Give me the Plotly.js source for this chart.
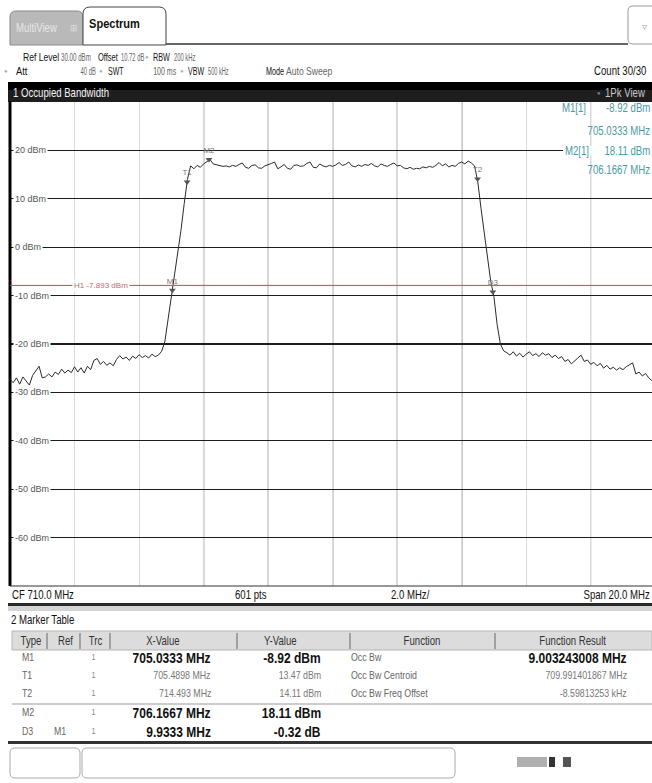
<!DOCTYPE html>
<html><head><meta charset="utf-8">
<script src="https://cdn.plot.ly/plotly-3.0.1.min.js"></script>
<style>html,body{margin:0;padding:0;background:#fff;overflow:hidden}#chart{width:652px;height:783px}</style>
</head><body><div id="chart"></div>
<script>
// ---------- data ----------
const startFreq = 700, stopFreq = 720;           // MHz (CF 710, span 20)
const levels = [                                   // dBm, one value every 0.1 MHz
 -27.3,-28.0,-27.0,-28.3,-26.8,-27.6,-28.5,-26.5,-25.5,-24.6,
 -27.0,-26.8,-26.2,-26.8,-25.8,-26.3,-25.2,-26.0,-25.4,-25.9,
 -24.7,-25.8,-24.9,-26.0,-24.6,-25.3,-23.4,-23.0,-24.2,-23.6,
 -24.4,-23.9,-24.5,-23.2,-22.4,-23.1,-22.7,-23.4,-22.5,-23.0,
 -22.2,-22.8,-22.4,-22.9,-22.1,-22.6,-22.3,
 -21.5,-19.5,-15.0,-10.5,-6.0,-1.5,3.5,9.0,14.0,16.8,
 16.2,16.9,16.5,
 17.2,17.6,18.1,17.2,17.0,16.9,16.7,16.8,16.6,16.9,
 16.7,17.1,17.4,16.5,16.3,16.9,17.0,16.4,16.3,16.8,
 17.0,17.3,17.6,16.2,16.6,17.1,16.3,16.1,16.9,17.0,
 16.7,16.8,17.3,17.6,16.5,16.4,17.2,16.8,16.6,16.9,
 16.7,17.0,17.5,16.9,17.1,17.6,16.8,16.6,17.0,16.7,
 17.1,16.9,17.3,16.8,16.6,17.2,16.9,16.7,17.1,17.4,
 16.8,16.9,16.4,16.2,16.5,16.1,16.3,16.2,16.6,16.4,
 16.7,16.5,16.9,17.5,16.8,17.2,16.6,16.9,16.7,17.3,
 17.6,17.2,17.8,17.4,16.8,
 13.5,8.0,3.0,-3.0,-7.0,-10.2,-16.0,-20.0,-21.4,
 -21.8,-22.3,-21.6,-22.5,-21.9,-22.7,
 -22.1,-21.6,-22.4,-22.0,-22.6,-21.8,-22.3,-22.0,-22.8,-22.3,
 -23.0,-22.6,-23.6,-23.2,-24.1,-23.4,-22.9,-22.3,-23.6,-23.3,
 -24.2,-23.8,-24.5,-24.0,-25.0,-24.4,-25.2,-24.8,-25.4,-24.9,
 -25.3,-24.7,-24.3,-23.9,-26.2,-25.8,-26.6,-26.1,-27.0,-27.6,
 -27.2
];
const yTicks = [20,10,0,-10,-20,-30,-40,-50,-60];
const markerNames = ['M1','T1','T2','M2','D3'];
const markerFreq  = [705.0333,705.4898,714.493,706.1667,714.9666];
const markerLevel = [-8.92,13.47,14.11,18.11,-9.24];
const displayLine = -7.893;

const tblType   = ['M1','T1','T2','M2','D3'];
const tblRef    = ['','','','','M1'];
const tblTrc    = ['1','1','1','1','1'];
const tblX      = ['705.0333 MHz','705.4898 MHz','714.493 MHz','706.1667 MHz','9.9333 MHz'];
const tblY      = ['-8.92 dBm','13.47 dBm','14.11 dBm','18.11 dBm','-0.32 dB'];
const tblBold   = [true,false,false,true,true];
const tblFunc   = ['Occ Bw','Occ Bw Centroid','Occ Bw Freq Offset','',''];
const tblResult = ['9.003243008 MHz','709.991401867 MHz','-8.59813253 kHz','',''];

// ---------- helpers ----------
const step = (stopFreq-startFreq)/(levels.length-1);
const freq = levels.map((_,i)=>+(startFreq+i*step).toFixed(3));
const F = "'Liberation Sans',Arial,sans-serif";
const L=10, T=102, W=642, H=484;
const px = x => (x-L)/W, py = y => (T+H-y)/H;
const ann = [], annSx = [], shp = [];
function txt(x,y,text,o={}){
  ann.push({xref:'paper',yref:'paper',x:px(x),y:py(y),text:text,showarrow:false,
    xanchor:o.a||'left',yanchor:'middle',borderpad:0,
    font:{family:F,size:o.s||11,color:o.c||'#222',weight:o.b?'bold':'normal'}});
  annSx.push(o.sx===undefined?0.8:o.sx);
}
function rect(x0,y0,x1,y1,fill,lc,lw){
  shp.push({type:'rect',xref:'paper',yref:'paper',x0:px(x0),x1:px(x1),y0:py(y0),y1:py(y1),
    fillcolor:fill||'rgba(0,0,0,0)',line:{color:lc||'rgba(0,0,0,0)',width:lc?(lw||1):0},layer:'above'});
}
function line(x0,y0,x1,y1,c,w){
  shp.push({type:'line',xref:'paper',yref:'paper',x0:px(x0),x1:px(x1),y0:py(y0),y1:py(y1),
    line:{color:c,width:w||1},layer:'above'});
}
const P=(x,y)=>px(x).toFixed(5)+','+py(y).toFixed(5);
function tab(x0,y0,x1,y1,r,fill,lc){
  shp.push({type:'path',xref:'paper',yref:'paper',layer:'above',
    path:`M${P(x0,y1)} L${P(x0,y0+r)} Q${P(x0,y0)} ${P(x0+r,y0)} L${P(x1-r,y0)} Q${P(x1,y0)} ${P(x1,y0+r)} L${P(x1,y1)} Z`,
    fillcolor:fill,line:{color:lc,width:1}});
}
function rbox(x0,y0,x1,y1,r,lc){
  shp.push({type:'path',xref:'paper',yref:'paper',layer:'above',
    path:`M${P(x0+r,y0)} L${P(x1-r,y0)} Q${P(x1,y0)} ${P(x1,y0+r)} L${P(x1,y1-r)} Q${P(x1,y1)} ${P(x1-r,y1)} L${P(x0+r,y1)} Q${P(x0,y1)} ${P(x0,y1-r)} L${P(x0,y0+r)} Q${P(x0,y0)} ${P(x0+r,y0)} Z`,
    fillcolor:'rgba(0,0,0,0)',line:{color:lc,width:1}});
}

// ---------- tabs / header ----------
tab(10,11,83,45,6,'#b9b9b9','#8a8a8a');
txt(15,28,'MultiView',{c:'#e6e6e6',s:12});
txt(74,28,'⊞',{c:'#dddddd',s:9,a:'center',sx:1});
line(166,44,628,44,'#333',1.5);
tab(83,7,166,45,7,'#ffffff','#444');
txt(88,24,'Spectrum',{c:'#111',s:13,b:true,sx:0.85});
rbox(628,6,660,44,5,'#999');
txt(644,26,'▿',{c:'#aaa',s:10,a:'center',sx:1});

// info lines
const G='#666', K='#111', dotC='#9fb3c4';
const lab={s:11,c:K,sx:0.72}, val={s:11,c:G,sx:0.56};
txt(22,57,'Ref Level',{...lab,sx:0.78}); txt(60,57,'30.00 dBm',val);
txt(97,57,'Offset',{...lab,sx:0.68}); txt(120,57,'10.72 dB',{...val,sx:0.53});
txt(147,57,'●',{s:6,c:dotC,a:'center',sx:1}); txt(152,57,'RBW',{...lab,sx:0.66}); txt(173,57,'200 kHz',{...val,sx:0.53});
txt(6,71,'●',{s:6,c:dotC,a:'center',sx:1}); txt(15,71,'Att',{...lab,sx:0.85}); txt(97,71,'40 dB',{...val,sx:0.53,a:'right'});
txt(101,71,'●',{s:6,c:dotC,a:'center',sx:1}); txt(107,71,'SWT',{...lab,sx:0.64}); txt(178,71,'100 ms',{...val,sx:0.64,a:'right'});
txt(182,71,'●',{s:6,c:dotC,a:'center',sx:1}); txt(187,71,'VBW',{...lab,sx:0.64}); txt(207,71,'500 kHz',{...val,sx:0.51});
txt(265,71,'Mode',{...lab,sx:0.66}); txt(285,71,'Auto Sweep',{...val,sx:0.78});
txt(648,71,'Count 30/30',{s:12,c:K,a:'right'});

// black title bar
rect(8,82,652,90,'#000000'); rect(8,90,652,102,'#1e1e1e');
txt(12,93,'1 Occupied Bandwidth',{s:12,c:'#f2f2f2'});
txt(599,93,'●',{s:6,c:'#5d86b0',a:'center',sx:1});
txt(646,93,'1Pk View',{s:12,c:'#c8c8c8',a:'right'});

// plot frame
line(10,101,10,586,'#000',3);
line(10,586,652,586,'#333',1);

// stronger vertical grid lines as they appear in the reference display
[706,710,714].forEach(f=>shp.push({type:'line',xref:'x',yref:'paper',x0:f,x1:f,y0:0,y1:1,line:{color:'#2e2e2e',width:1.2},layer:'between'}));
[708,712,718].forEach(f=>shp.push({type:'line',xref:'x',yref:'paper',x0:f,x1:f,y0:0,y1:1,line:{color:'#9a9a9a',width:1},layer:'between'}));

// y labels (gridline gaps)
yTicks.forEach(v=>{
  ann.push({xref:'paper',yref:'y',x:px(13),y:v,text:v+' dBm',showarrow:false,xanchor:'left',yanchor:'middle',
    bgcolor:'#ffffff',borderpad:1,font:{family:F,size:9,color:'#555'}});
  annSx.push(0);
});

// display line H1
shp.push({type:'line',xref:'paper',yref:'y',x0:0,x1:1,y0:displayLine,y1:displayLine,line:{color:'#c8455a',width:1},layer:'above'});
ann.push({xref:'paper',yref:'y',x:px(72),y:displayLine,text:'H1 '+displayLine.toFixed(3)+' dBm',showarrow:false,
  xanchor:'left',yanchor:'middle',bgcolor:'#ffffff',borderpad:1,font:{family:F,size:8,color:'#b86a74'}});
annSx.push(0);

// marker readout (top right)
rect(563,146,652,156,'#ffffff');
const teal='#4b9aa7';
txt(561,108,'M1[1]',{s:12,c:teal}); txt(651,108,markerLevel[0].toFixed(2)+' dBm',{s:12,c:teal,a:'right'});
txt(651,131,markerFreq[0].toFixed(4)+' MHz',{s:12,c:teal,a:'right'});
txt(564,151,'M2[1]',{s:12,c:teal}); txt(651,151,markerLevel[3].toFixed(2)+' dBm',{s:12,c:teal,a:'right'});
txt(651,170,markerFreq[3].toFixed(4)+' MHz',{s:12,c:teal,a:'right'});

// bottom axis info row
txt(11,595,'CF 710.0 MHz',{s:12,c:K});
txt(250,595,'601 pts',{s:12,c:K,a:'center'});
txt(410,595,'2.0 MHz/',{s:12,c:K,a:'center'});
txt(651,595,'Span 20.0 MHz',{s:12,c:K,a:'right'});
rect(8,603,652,606,'#2a2a2a'); rect(8,606,652,611,'#d4d4d4');

// marker table
txt(10,620,'2 Marker Table',{s:12,c:K});
rect(12,631,652,650,'#dcdcdc','#b5b5b5',1);
[47,80,110,237,350,495].forEach(x=>line(x,633,x,649,'#666',1));
const hc='#333';
txt(31,641,'Type',{s:12,c:hc,a:'center'}); txt(65,641,'Ref',{s:12,c:hc,a:'center'});
txt(96,641,'Trc',{s:12,c:hc,a:'center'}); txt(163,641,'X-Value',{s:12,c:hc,a:'center'});
txt(280,641,'Y-Value',{s:12,c:hc,a:'center'}); txt(422,641,'Function',{s:12,c:hc,a:'center'});
txt(573,641,'Function Result',{s:12,c:hc,a:'center'});
const rowY=[657,675,693,712,731];
tblType.forEach((t,i)=>{
  const y=rowY[i], b=tblBold[i];
  txt(21,y,t,{s:11,c:'#666'});
  if(tblRef[i]) txt(53,y,tblRef[i],{s:11,c:'#666'});
  txt(94,y,tblTrc[i],{s:9,c:'#888',a:'center'});
  txt(212,y,tblX[i],b?{s:15,c:K,a:'right',b:true}:{s:11,c:'#777',a:'right'});
  txt(322,y,tblY[i],b?{s:15,c:K,a:'right',b:true}:{s:11,c:'#777',a:'right'});
  if(tblFunc[i]) txt(350,y,tblFunc[i],{s:11,c:'#666'});
  if(tblResult[i]) txt(628,y,tblResult[i],i===0?{s:15,c:K,a:'right',b:true}:{s:11,c:'#777',a:'right'});
});
line(12,704,652,704,'#999',1);
rect(8,741,652,744,'#333');

// soft keys / status
rbox(10,748,80,778,5,'#aaa');
rbox(82,748,455,778,5,'#aaa');
rect(517,757,547,767,'#b0b0b0'); rect(549,757,555,767,'#333'); rect(563,757,571,767,'#555');

// ---------- traces ----------
const data = [
  {type:'scatter',mode:'lines',x:freq,y:levels,line:{color:'#2b2b2b',width:1},hoverinfo:'skip'},
  {type:'scatter',mode:'markers+text',x:markerFreq,y:markerLevel,text:markerNames,
   textposition:'top center',textfont:{family:F,size:8,color:'#777'},
   marker:{symbol:'triangle-down',size:6,color:'#555'},hoverinfo:'skip'}
];
const layout = {
  width:652,height:783,margin:{l:L,r:0,t:T,b:783-T-H},
  paper_bgcolor:'#ffffff',plot_bgcolor:'#ffffff',showlegend:false,
  xaxis:{range:[startFreq,startFreq+19.9],tick0:startFreq,dtick:2,showgrid:true,gridcolor:'#dadada',gridwidth:1,
         showticklabels:false,zeroline:false,showline:false,ticks:''},
  yaxis:{range:[-70,30],tick0:-70,dtick:10,showgrid:true,gridcolor:'#1c1c1c',gridwidth:1.3,
         showticklabels:false,zeroline:false,showline:false,ticks:''},
  annotations:ann,shapes:shp
};
Plotly.newPlot('chart',data,layout,{displayModeBar:false,staticPlot:true}).then(gd=>{
  // condensed instrument-style lettering: squeeze annotation text horizontally about its anchor
  gd.querySelectorAll('.annotation').forEach(el=>{
    const i=+el.getAttribute('data-index'), s=annSx[i];
    if(!s || s===1) return;
    const t=el.querySelector('text'); if(!t) return;
    const a=ann[i].xanchor, o=a==='left'?'0%':a==='right'?'100%':'50%';
    t.style.transformBox='fill-box'; t.style.transformOrigin=o+' 50%'; t.style.transform='scaleX('+s+')';
  });
});
</script></body></html>
